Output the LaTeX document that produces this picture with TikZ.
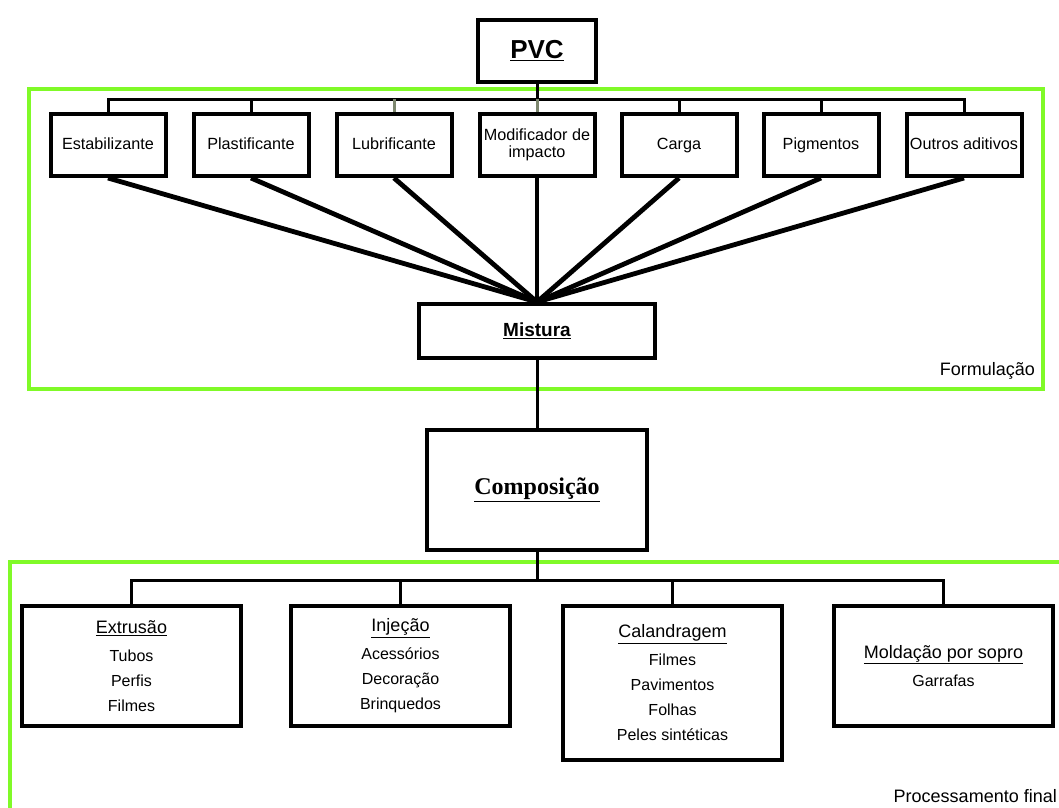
\documentclass[tikz,border=0pt]{standalone}
\usepackage{fontspec}
\setmainfont{Liberation Sans}
\newfontfamily\serifbold{Liberation Serif}
\definecolor{framegreen}{RGB}{128,250,40}
\definecolor{busgray}{RGB}{125,135,110}
\tikzset{
  box/.style={draw=black, line width=4pt, fill=white, align=center, inner sep=0pt},
  add-box/.style={box, minimum width=115pt, minimum height=62pt, text height=11.7pt, text depth=3.4pt, font=\fontsize{16.2}{17}\selectfont},
  proc-box/.style={box, anchor=north, minimum width=219pt, font=\fontsize{16}{25}\selectfont},
  bus/.style={line width=3pt},
  fan/.style={line width=4.8pt},
  frame/.style={draw=framegreen, line width=4pt},
  frame-label/.style={font=\fontsize{18}{20}\selectfont, inner sep=0pt}
}
\newcommand{\proctitle}[1]{{\fontsize{18}{20}\selectfont\underline{#1}}}

\begin{document}
\begin{tikzpicture}[x=1pt, y=-1pt]
  \useasboundingbox (0,0) rectangle (1059,807);

  % Green frames
  \draw[frame] (29,89) rectangle (1043,389);
  \draw[frame] (10,562) rectangle (1080,830);
  \node[frame-label, anchor=base east] (formulacao) at (1035,375) {Formulação};
  \node[frame-label, anchor=base east] (processamento) at (1057,802) {Processamento final};

  \coordinate (bus-top) at (0,99);
  \coordinate (bus-bot) at (0,580);

  % PVC
  \node[box, minimum width=118pt, minimum height=62pt, font=\fontsize{26}{28}\selectfont\bfseries] (pvc) at (537,51) {\underline{PVC}};

  % Additives
  \node[add-box] (estab) at (108,145) {Estabilizante};
  \node[add-box] (plast) at (251,145) {Plastificante};
  \node[add-box] (lubri) at (394,145) {Lubrificante};
  \node[add-box, text height=, text depth=] (modif) at (537,145) {Modificador de\\impacto};
  \node[add-box] (carga) at (679,145) {Carga};
  \node[add-box] (pigm) at (821,145) {Pigmentos};
  \node[add-box] (outros) at (964,145) {Outros aditivos};

  % Mixing and composition
  \node[box, minimum width=236pt, minimum height=54pt, font=\fontsize{19}{21}\selectfont\bfseries] (mistura) at (537,331) {\underline{Mistura}};
  \node[box, minimum width=220pt, minimum height=120pt, font=\serifbold\fontsize{24}{26}\selectfont\bfseries] (comp) at (537,490) {\underline{Composição}};

  % Processing
  \node[proc-box, minimum height=120pt] (extr) at (131.5,604) {\proctitle{Extrusão}\\[3pt]Tubos\\Perfis\\Filmes};
  \node[proc-box, minimum height=120pt] (inj) at (400.5,604) {\proctitle{Injeção}\\[3pt]Acessórios\\Decoração\\Brinquedos};
  \node[proc-box, minimum height=154pt] (cal) at (672.5,604) {\proctitle{Calandragem}\\[3pt]Filmes\\Pavimentos\\Folhas\\Peles sintéticas};
  \node[proc-box, minimum height=120pt] (sopro) at (943.5,604) {\proctitle{Moldação por sopro}\\[3pt]Garrafas};

  % Top bus
  \draw[bus] (pvc.south) -- (pvc.south |- bus-top);
  \draw[bus] (estab.north) -- (estab.north |- bus-top) -- (outros.north |- bus-top) -- (outros.north);
  \foreach \n in {plast, carga, pigm}
    \draw[bus] (\n.north) -- (\n.north |- bus-top);
  \foreach \n in {lubri, modif}
    \draw[bus, busgray] (\n.north) -- (\n.north |- bus-top);

  % Fan into the mixture
  \foreach \n in {estab, plast, lubri, modif, carga, pigm, outros}
    \draw[fan] (\n.south) -- (mistura.north);

  \draw[bus] (mistura.south) -- (comp.north);

  % Bottom bus
  \draw[bus] (comp.south) -- (comp.south |- bus-bot);
  \draw[bus] (extr.north) -- (extr.north |- bus-bot) -- (sopro.north |- bus-bot) -- (sopro.north);
  \foreach \n in {inj, cal}
    \draw[bus] (\n.north) -- (\n.north |- bus-bot);
\end{tikzpicture}
\end{document}
